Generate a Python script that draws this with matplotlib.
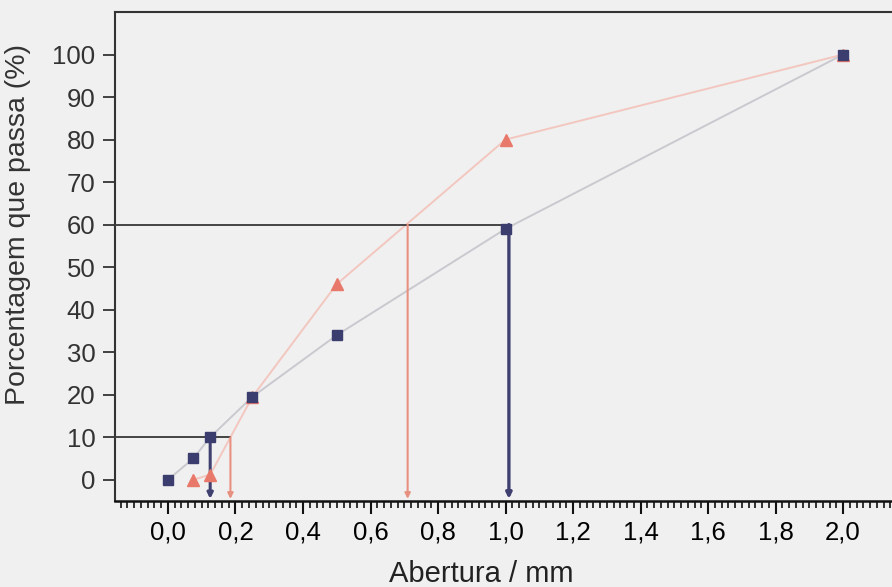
import numpy as np
import matplotlib.pyplot as plt
from matplotlib.ticker import MultipleLocator, FuncFormatter

# Curvas granulométricas (abertura em mm, % que passa)
abertura_a = [0.0, 0.075, 0.125, 0.25, 0.5, 1.0, 2.0]
passa_a = [0, 5, 10, 19.5, 34, 59, 100]

abertura_b = [0.075, 0.125, 0.25, 0.5, 1.0, 2.0]
passa_b = [0, 1.2, 19.5, 46, 80, 100]

# Diâmetros D10 e D60 de cada curva
d10 = {"a": 0.125, "b": 0.185}
d60 = {"a": 1.01, "b": 0.71}

azul = "#3b3d6e"
vermelho = "#e8796a"
bg = "#f0f0f0"

plt.rcParams["font.family"] = ["Liberation Sans", "DejaVu Sans"]

fig = plt.figure(figsize=(8.92, 5.87), dpi=100, facecolor=bg)
ax = fig.add_axes([115 / 892, 1 - 501 / 587, 1 - 115 / 892, (501 - 12) / 587])
ax.set_facecolor(bg)

x0, x1 = -0.157, 2.145
y0, y1 = -5, 110
ax.set_xlim(x0, x1)
ax.set_ylim(y0, y1)

# linhas que ligam os pontos
ax.plot(abertura_a, passa_a, color="#c9c9cf", lw=1.4, zorder=2)
ax.plot(abertura_b, passa_b, color="#f3c7bf", lw=1.4, zorder=2)

# linhas de referência para 10% e 60%
ax.plot([x0, max(d10.values())], [10, 10], color="#444444", lw=1.4, zorder=3)
ax.plot([x0, d60["a"]], [60, 60], color="#444444", lw=1.4, zorder=3)

for x, col, lw, ytop in [(d10["a"], "#3f4070", 2.2, 10), (d10["b"], "#e8907f", 1.5, 10),
                         (d60["b"], "#e8907f", 1.5, 60), (d60["a"], "#3f4070", 2.4, 60)]:
    ax.annotate("", xy=(x, -4.5), xytext=(x, ytop),
                arrowprops=dict(arrowstyle="-|>", color=col, lw=lw,
                                mutation_scale=8, shrinkA=0, shrinkB=0),
                zorder=3)

# triângulos por baixo, quadrados por cima
ax.plot(abertura_b, passa_b, "^", color=vermelho, ms=8, zorder=4)
ax.plot(abertura_a, passa_a, "s", color=azul, ms=7.5, zorder=5)

# eixos
ax.spines["right"].set_visible(False)
for s in ["left", "top"]:
    ax.spines[s].set_color("#333333")
    ax.spines[s].set_linewidth(1.5)
ax.spines["bottom"].set_color("#111111")
ax.spines["bottom"].set_linewidth(1.8)

ax.xaxis.set_major_locator(MultipleLocator(0.2))
ax.xaxis.set_minor_locator(MultipleLocator(0.02))
ax.set_yticks(np.arange(0, 101, 10))
ax.xaxis.set_major_formatter(FuncFormatter(lambda v, p: f"{v:.1f}".replace(".", ",")))

ax.tick_params(axis="x", which="major", direction="out", length=9, width=1.5,
               labelsize=18.5, pad=5, color="#111111")
ax.tick_params(axis="x", which="minor", direction="out", length=5, width=1.2,
               color="#111111")
ax.tick_params(axis="y", direction="out", length=9, width=1.3, labelsize=18.5,
               pad=5, color="#333333", labelcolor="#333333")

ax.set_xlabel("Abertura / mm", fontsize=21, color="#222222")
ax.xaxis.set_label_coords(0.471, -0.12)
ax.set_ylabel("Porcentagem que passa (%)", fontsize=20.5, color="#333333")
ax.yaxis.set_label_coords(-0.108, 0.565)

fig.savefig("out.png", dpi=100, facecolor=bg)
